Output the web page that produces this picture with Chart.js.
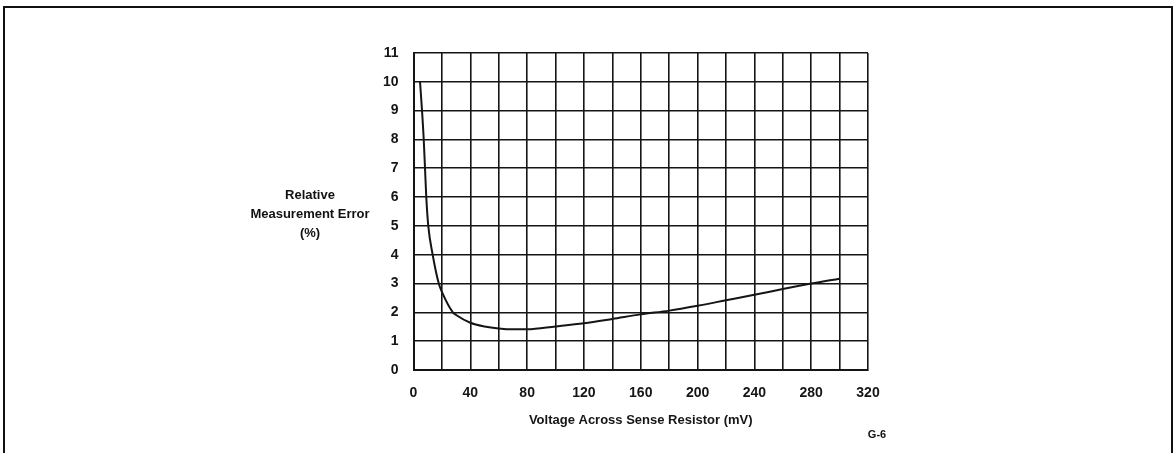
<!DOCTYPE html>
<html>
<head>
<meta charset="utf-8">
<script src="https://cdn.jsdelivr.net/npm/chart.js@4"></script>
<style>
  html, body { margin: 0; padding: 0; background: #fff; }
  body { width: 1176px; height: 453px; position: relative; overflow: hidden; font-family: "Liberation Sans", Arial, sans-serif; }
  #frame { position: absolute; left: 3px; top: 6px; width: 1166px; height: 460px; border-left: 2px solid #111; border-top: 2px solid #111; border-right: 2px solid #111; }
  #wrap { position: absolute; left: 0; top: 0; width: 1176px; height: 453px; }
  .lbl { position: absolute; font-weight: bold; color: #111; text-align: center; }
  #ytitle { left: 230px; top: 185px; width: 160px; font-size: 13px; line-height: 19px; }
  #gnote { left: 860px; top: 428px; width: 34px; font-size: 11px; }
</style>
</head>
<body>
<div id="frame"></div>
<div id="wrap"><canvas id="canvas" width="1176" height="453"></canvas></div>
<div id="ytitle" class="lbl">Relative<br>Measurement Error<br>(%)</div>
<div id="gnote" class="lbl">G-6</div>
<script>
// values
const voltage = [4.6, 6, 7.2, 8.1, 9, 10.4, 13.5, 17.8, 20, 27.7, 30, 40, 50, 60, 70, 80, 100, 120, 140, 160, 180, 200, 220, 240, 260, 280, 300];
const errorPct = [10.0, 9.0, 8.0, 7.0, 6.0, 5.0, 4.0, 3.0, 2.71, 2.0, 1.91, 1.64, 1.51, 1.44, 1.41, 1.41, 1.51, 1.62, 1.77, 1.93, 2.06, 2.23, 2.42, 2.61, 2.81, 3.0, 3.17];

const xTitle = 'Voltage Across Sense Resistor (mV)';
const xMin = 0, xMax = 320, xStep = 20, xLabelEvery = 40;
const yMin = 0, yMax = 11, yStep = 1;

const points = voltage.map((v, i) => ({ x: v, y: errorPct[i] }));

const ink = '#151515';
const tickFont = { family: 'Liberation Sans', size: 14, weight: 'bold' };

const ctx = document.getElementById('canvas');
new Chart(ctx, {
  type: 'line',
  data: {
    datasets: [{
      data: points,
      borderColor: ink,
      borderWidth: 2,
      pointRadius: 0,
      fill: false,
      cubicInterpolationMode: 'monotone'
    }]
  },
  options: {
    responsive: false,
    animation: false,
    layout: { padding: { left: 373.5, right: 308, top: 53, bottom: 0 } },
    plugins: {
      legend: { display: false },
      tooltip: { enabled: false }
    },
    scales: {
      x: {
        type: 'linear',
        min: xMin,
        max: xMax,
        afterFit: s => { s.height = 83; },
        grid: { color: ink, lineWidth: 1.6, drawTicks: false },
        border: { color: ink, width: 2 },
        ticks: {
          stepSize: xStep,
          padding: 15,
          color: ink,
          font: tickFont,
          maxRotation: 0,
          autoSkip: false,
          callback: v => (v % xLabelEvery === 0 ? v : '')
        },
        title: {
          display: true,
          text: xTitle,
          color: ink,
          font: { family: 'Liberation Sans', size: 13, weight: 'bold' },
          padding: { top: 8, bottom: 25 }
        }
      },
      y: {
        min: yMin,
        max: yMax,
        afterFit: s => { s.width = 40; },
        grid: { color: ink, lineWidth: 1.6, drawTicks: false },
        border: { color: ink, width: 2 },
        ticks: {
          stepSize: yStep,
          padding: 15,
          color: ink,
          font: tickFont
        }
      }
    }
  }
});
</script>
</body>
</html>
